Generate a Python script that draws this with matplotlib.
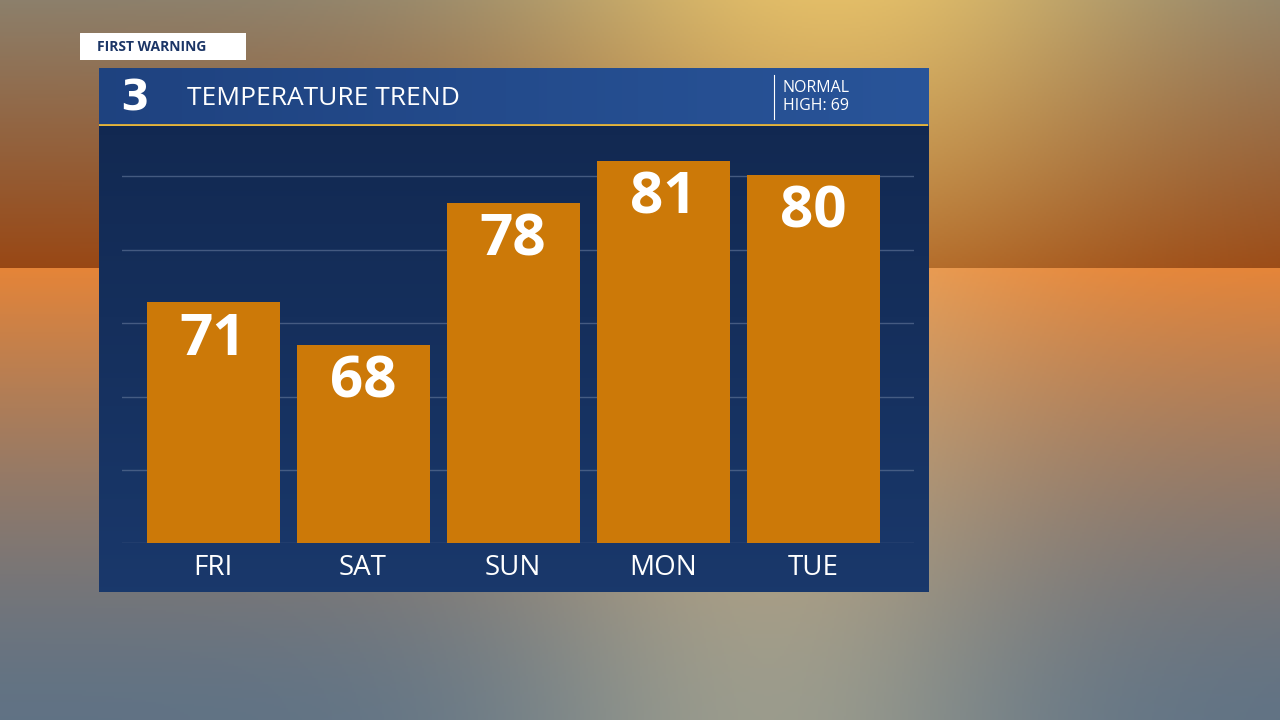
import matplotlib
matplotlib.use("Agg")
import matplotlib.pyplot as plt
import numpy as np
from matplotlib.patches import Rectangle

days = ["FRI", "SAT", "SUN", "MON", "TUE"]
temps = [71, 68, 78, 81, 80]
normal_high = 69

W, H = 1280, 720
fig = plt.figure(figsize=(12.8, 7.2), dpi=100)

def px(x0, y0, x1, y1):
    return [x0 / W, 1 - y1 / H, (x1 - x0) / W, (y1 - y0) / H]

# background: sunset sky and water
bg = fig.add_axes([0, 0, 1, 1]); bg.axis("off")
yy = np.linspace(0, 1, 360)[:, None]
xx = np.linspace(0, 1, 640)[None, :]
sky_top = np.array([0.55, 0.50, 0.42]); sky_glow = np.array([1.0, 0.82, 0.40])
hor = np.array([0.60, 0.28, 0.08])
water_top = np.array([0.90, 0.52, 0.22]); water_bot = np.array([0.38, 0.45, 0.52])
img = np.zeros((360, 640, 3))
h = 268 / 720
for i in range(360):
    t = yy[i, 0]
    if t < h:
        s = t / h
        c = sky_top * (1 - s) + hor * s
        glow = np.exp(-((xx[0] - 0.65) ** 2) / 0.06) * (1 - 0.6 * s) * 0.75
        img[i] = c[None, :] * (1 - glow[:, None]) + sky_glow[None, :] * glow[:, None]
    else:
        s = (t - h) / (1 - h)
        c = water_top * (1 - s) ** 1.5 + water_bot * (1 - (1 - s) ** 1.5)
        glow = np.exp(-((xx[0] - 0.6) ** 2) / 0.04) * 0.4
        img[i] = c[None, :] * (1 - glow[:, None]) + np.array([0.95, 0.85, 0.6])[None, :] * glow[:, None]
bg.imshow(np.clip(img, 0, 1), extent=[0, 1, 0, 1], aspect="auto")
bg.set_xlim(0, 1); bg.set_ylim(0, 1)

# panel body
body = fig.add_axes(px(99, 126, 928, 592)); body.axis("off")
g = np.linspace(0, 1, 100)[:, None]
cb = np.array([0.07, 0.16, 0.32]) * (1 - g[..., None]) + np.array([0.10, 0.22, 0.42]) * g[..., None]
body.imshow(np.repeat(cb, 2, axis=1), extent=[0, 1, 0, 1], aspect="auto")

# header
hd = fig.add_axes(px(99, 68, 928, 126)); hd.axis("off")
ch = np.array([0.12, 0.26, 0.50]) * (1 - g[..., None]) + np.array([0.16, 0.33, 0.60]) * g[..., None]
hd.imshow(np.repeat(ch, 2, axis=0).transpose(1, 0, 2), extent=[0, 1, 0, 1], aspect="auto")
hd.set_xlim(0, 1); hd.set_ylim(0, 1)
hd.axhline(0.01, color="#E6B53A", lw=2)
hd.text(0.025, 0.48, "3", color="white", fontsize=30, fontweight="bold", va="center", family="DejaVu Sans")
hd.text(0.106, 0.48, "TEMPERATURE TREND", color="white", fontsize=19, va="center", family="Open Sans")
hd.plot([0.814, 0.814], [0.12, 0.88], color="white", lw=0.8)
hd.text(0.825, 0.5, "NORMAL\nHIGH: %d" % normal_high, color="white", fontsize=11.5, va="center", family="Open Sans", linespacing=1.1)

# tab
tab = fig.add_axes(px(80, 33, 246, 60)); tab.axis("off")
tab.add_patch(Rectangle((0, 0), 1, 1, color="white"))
tab.set_xlim(0, 1); tab.set_ylim(0, 1)
tab.text(0.1, 0.48, "FIRST WARNING", color="#1B3566", fontsize=10, fontweight="bold", va="center", family="Open Sans")

# chart
ax = fig.add_axes(px(122, 130, 914, 543))
ax.patch.set_alpha(0)
x = np.arange(len(days))
ymin = 54.0
ax.set_ylim(ymin, ymin + (543 - 130) / 14.15)
ax.set_xlim(-0.607, -0.607 + 792 / 150)
for gy in [176, 250, 323, 397, 470, 543]:
    ax.axhline(ymin + (543 - gy) / 14.15, color="#5A6F93", lw=1, alpha=0.7, zorder=0)
ax.bar(x, [t - ymin for t in temps], bottom=ymin, width=0.887, color="#CC7908", zorder=2)
for xi, t in zip(x, temps):
    ax.text(xi, t - 0.6, str(t), color="white", fontsize=42, fontweight="bold", ha="center", va="top", family="Open Sans", zorder=3)
ax.set_xticks(x)
ax.set_xticklabels(days, color="white", fontsize=20, family="Open Sans")
ax.tick_params(length=0, pad=8)
ax.set_yticks([])
for s in ax.spines.values():
    s.set_visible(False)

fig.savefig("out.png", dpi=100)
